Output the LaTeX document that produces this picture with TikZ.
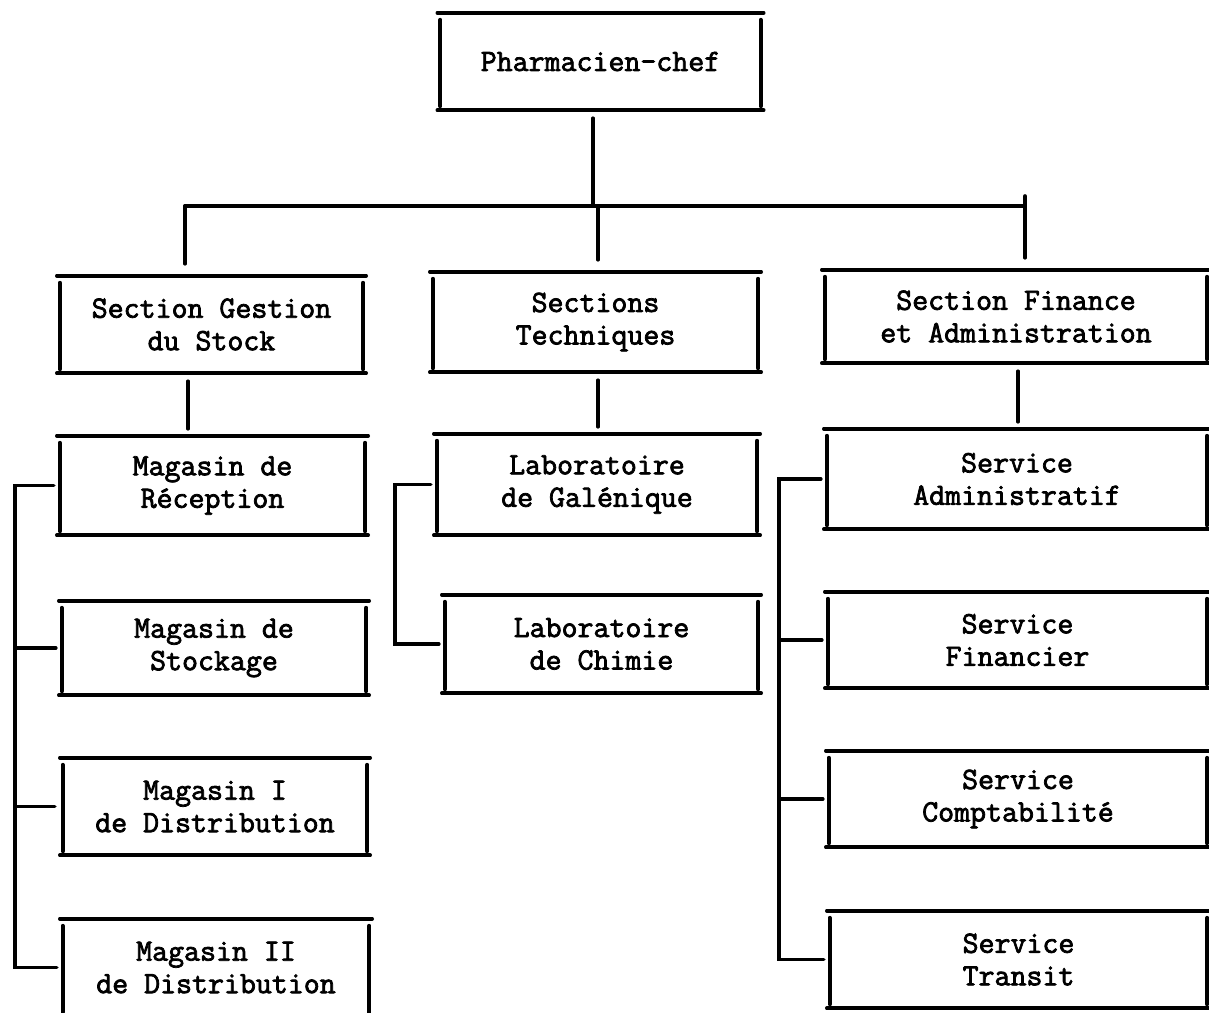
\documentclass[tikz,border=0pt]{standalone}
\usepackage{fontspec}
\newfontfamily\typewriter[FakeBold=2.4]{Latin Modern Mono}
\begin{document}
\begin{tikzpicture}[x=1pt,y=-1pt,
  unit/.style 2 args={minimum width=#1pt, minimum height=#2pt, inner sep=0pt,
    align=center, font=\typewriter\fontsize{31}{32.5}\selectfont},
  rulefill/.style={line width=3.6pt, line cap=round, black},
  side/.style={line width=4pt, line cap=round, black},
  conn/.style={line width=3.6pt, line cap=round, black}]
\useasboundingbox (0,0) rectangle (1209,1012);
\clip (0,0) rectangle (1209,1012);
\fill[white] (0,0) rectangle (1209,1012);

% ---- units ----
\node[unit={320}{97}] (pc) at (600.5,61.5) {Pharmacien-chef};

\node[unit={303}{97}] (sgs) at (211.5,324.5) {Section Gestion\\du Stock};
\node[unit={325}{100}] (st) at (595.5,322) {Sections\\Techniques};
\node[unit={382}{93}] (sfa) at (1016,316.5) {Section Finance\\et Administration};

\node[unit={305}{99}] (mr) at (212.5,485.5) {Magasin de\\Réception};
\node[unit={304}{94}] (ms) at (214,648) {Magasin de\\Stockage};
\node[unit={304}{97}] (m1) at (215,806.5) {Magasin I\\de Distribution};
\node[unit={306}{97}] (m2) at (216,967.5) {Magasin II\\de Distribution};

\node[unit={320}{101}] (lg) at (597,484.5) {Laboratoire\\de Galénique};
\node[unit={313}{98}] (lc) at (601.5,644) {Laboratoire\\de Chimie};

\node[unit={380}{100}] (sa) at (1017,479) {Service\\Administratif};
\node[unit={379}{96}] (sf) at (1017.5,640) {Service\\Financier};
\node[unit={378}{96}] (sc) at (1018,799) {Service\\Comptabilité};
\node[unit={377}{97}] (str) at (1018.5,959.5) {Service\\Transit};

% ---- box rules: long top and bottom lines, short sides ----
\foreach \n in {pc,sgs,st,sfa,mr,ms,m1,m2,lg,lc,sa,sf,sc,str}{
  \draw[rulefill] ([xshift=-3pt]\n.north west) -- ([xshift=3pt]\n.north east);
  \draw[rulefill] ([xshift=-3pt]\n.south west) -- ([xshift=3pt]\n.south east);
  \draw[side] ([yshift=-7pt]\n.north west) -- ([yshift=4pt]\n.south west);
  \draw[side] ([yshift=-7pt]\n.north east) -- ([yshift=4pt]\n.south east);
}

% ---- top level ----
\coordinate (barM) at (593,206);
\coordinate (barL) at (185,206);
\coordinate (barR) at (1025,206);
\draw[conn] (barM |- pc.south) ++(0,8) -- (barM);
\draw[conn] (barL) -- (barR);
\draw[conn, shorten >=12pt] (barL) -- (barL |- sgs.north);
\draw[conn, shorten >=12pt] ([xshift=5pt]barM) -- ([xshift=5pt]barM |- st.north);
\draw[conn, shorten <=-10pt, shorten >=12pt] (barR) -- (barR |- sfa.north);

% ---- section to first unit ----
\draw[conn, shorten <=8pt, shorten >=7pt] ([xshift=-23.5pt]sgs.south) -- ([xshift=-24.5pt]mr.north);
\draw[conn, shorten <=8pt, shorten >=7pt] ([xshift=2.5pt]st.south) -- ([xshift=1pt]lg.north);
\draw[conn, shorten <=8pt, shorten >=7pt] ([xshift=2pt]sfa.south) -- ([xshift=1pt]sa.north);

% ---- bus lines ----
\coordinate (busL) at (15,0);
\coordinate (busM) at (395,0);
\coordinate (busR) at (779,0);

\draw[conn] ([xshift=-6pt]mr.west) -| (busL |- m2.west) -- ([xshift=-6pt]m2.west);
\draw[conn] (busL |- ms.west) -- ([xshift=-6pt]ms.west);
\draw[conn] (busL |- m1.west) -- ([xshift=-8pt]m1.west);

\draw[conn] ([xshift=-6pt]lg.west) -| (busM |- lc.west) -- ([xshift=-6pt]lc.west);

\draw[conn] ([xshift=-6pt]sa.west) -| (busR |- str.west) -- ([xshift=-6pt]str.west);
\draw[conn] (busR |- sf.west) -- ([xshift=-6pt]sf.west);
\draw[conn] (busR |- sc.west) -- ([xshift=-6pt]sc.west);
\end{tikzpicture}
\end{document}
